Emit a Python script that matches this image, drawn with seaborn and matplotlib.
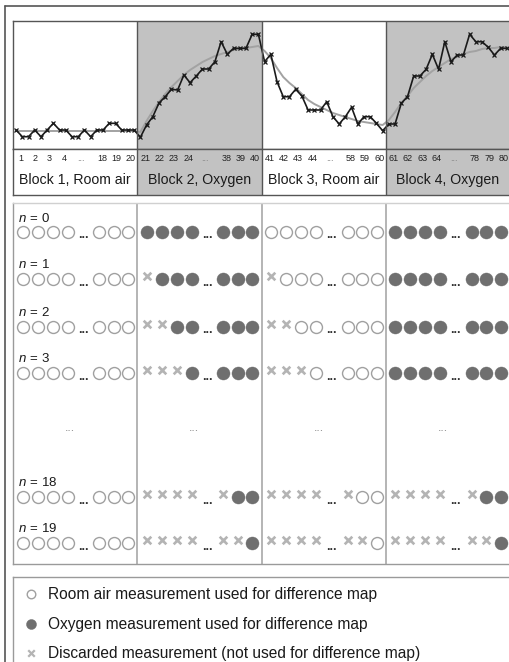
import numpy as np
import pandas as pd
import matplotlib
matplotlib.use("Agg")
import matplotlib.pyplot as plt
import seaborn as sns
from matplotlib.lines import Line2D

# ---------------- data ----------------
block_names = ["Block 1, Room air", "Block 2, Oxygen", "Block 3, Room air", "Block 4, Oxygen"]
block_gas = ["air", "oxygen", "air", "oxygen"]
measurements_per_block = 20
first_ticks = [1, 2, 3, 4]
last_ticks = [18, 19, 20]

signal_block1 = [19, 12.3, 12.3, 19, 12.3, 19, 25.7, 19, 19, 12.3,
                 12.3, 19, 12.3, 19, 19, 25.7, 25.7, 19, 19, 19]
signal_block2 = [11.7, 24, 32.3, 46, 52.3, 59.7, 59, 74, 66.3, 73,
                 80, 80, 87.3, 107.3, 94.7, 100.7, 100.7, 100.7, 114.7, 114.7]
signal_block3 = [87.3, 94.7, 67.3, 52.3, 52.3, 59.7, 53, 39, 39, 39,
                 47.3, 32.3, 25, 32.3, 41.7, 25, 32.3, 32.3, 25.7, 18.3]
signal_block4 = [25, 25, 45.7, 52.3, 73, 73, 79.7, 94.7, 79.7, 107.3,
                 87.3, 94, 94, 114.7, 107.3, 107.3, 101.7, 94, 100.7, 100.7]

fit_block1 = [18, 18, 18, 18, 18, 18, 18, 18, 18, 18,
              18, 18, 18, 18, 18, 18, 18, 18, 18, 18]
fit_block2 = [17, 28, 38, 47, 55, 62, 68, 74, 79, 83,
              87, 90, 93, 95, 97, 99, 100, 101, 102, 103]
fit_block3 = [98, 91, 81, 72, 66, 61, 55, 49, 45, 42,
              39, 36, 34, 32, 30, 28, 27, 26, 25, 24]
fit_block4 = [29, 37, 46, 53, 61, 67, 73, 78, 82, 86,
              90, 92, 95, 97, 98, 100, 101, 101, 102, 102]

n_values = [0, 1, 2, 3, 18, 19]
# slots per block: measurements 1,2,3,4 ... 18,19,20
# o = room air used, f = oxygen used, x = discarded
row_patterns = [
    ["ooooooo", "fffffff", "ooooooo", "fffffff"],
    ["ooooooo", "xffffff", "xoooooo", "fffffff"],
    ["ooooooo", "xxfffff", "xxooooo", "fffffff"],
    ["ooooooo", "xxxffff", "xxxoooo", "fffffff"],
    ["ooooooo", "xxxxxff", "xxxxxoo", "xxxxxff"],
    ["ooooooo", "xxxxxxf", "xxxxxxo", "xxxxxxf"],
]
legend_kinds = ["o", "f", "x"]
legend_labels = ["Room air measurement used for difference map",
                 "Oxygen measurement used for difference map",
                 "Discarded measurement (not used for difference map)"]

# ---------------- style ----------------
sns.set_style("white")
plt.rcParams["font.family"] = ["Liberation Sans", "DejaVu Sans"]
plt.rcParams["mathtext.fontset"] = "custom"
plt.rcParams["mathtext.rm"] = "Liberation Sans"
plt.rcParams["mathtext.it"] = "Liberation Sans:italic"
plt.rcParams["mathtext.bf"] = "Liberation Sans:bold"

W, H = 509, 662
fig = plt.figure(figsize=(W / 100, H / 100), dpi=100)
fig.patch.set_facecolor("white")


def px_axes(x0, y0, x1, y1):
    return fig.add_axes([x0 / W, 1 - y1 / H, (x1 - x0) / W, (y1 - y0) / H])


BLOCK_PX = 124.25
OXY = "#c2c2c2"
DARK = "#555555"
OPEN_EDGE = "#a0a0a0"
FILLED = "#6f6f6f"
CROSS = "#b4b4b4"
nb = len(block_names)

# ---------------- top time-course panel ----------------
ax_top = px_axes(13, 20.7, 510, 149)
signal = signal_block1 + signal_block2 + signal_block3 + signal_block4
fit = fit_block1 + fit_block2 + fit_block3 + fit_block4
df = pd.DataFrame({"measurement": np.arange(1, len(signal) + 1),
                   "signal": signal, "fit": fit})
for k, gas in enumerate(block_gas):
    if gas == "oxygen":
        ax_top.axvspan(k * measurements_per_block + 0.5,
                       (k + 1) * measurements_per_block + 0.5,
                       color=OXY, lw=0, zorder=0)
sns.lineplot(data=df, x="measurement", y="fit", color="#a2a2a2", lw=1.4,
             ax=ax_top, zorder=2)
sns.lineplot(data=df, x="measurement", y="signal", color="#1a1a1a", lw=1.2,
             marker="x", markersize=3.2, markeredgewidth=0.9,
             markeredgecolor="#1a1a1a", ax=ax_top, zorder=3)
for k in range(1, nb):
    ax_top.axvline(k * measurements_per_block + 0.5, color=DARK, lw=1.0, zorder=4)
ax_top.set_xlim(0.5, nb * measurements_per_block + 0.5)
ax_top.set_ylim(0, 128.3)
ax_top.set_xticks([])
ax_top.set_yticks([])
ax_top.set_xlabel("")
ax_top.set_ylabel("")
for sp in ax_top.spines.values():
    sp.set_color(DARK)
    sp.set_linewidth(1.0)

# ---------------- label rows under the time course ----------------
ax_lab = px_axes(13, 149, 510, 194.5)
ax_lab.set_xlim(0, nb)
ax_lab.set_ylim(0, 1)
tick_offsets = [8, 22, 36.5, 51, 68, 89, 103.5, 118]
for k, (name, gas) in enumerate(zip(block_names, block_gas)):
    if gas == "oxygen":
        ax_lab.axvspan(k, k + 1, color=OXY, lw=0, zorder=0)
    base = k * measurements_per_block
    labels = [str(base + t) for t in first_ticks] + ["..."] + [str(base + t) for t in last_ticks]
    for off, lab in zip(tick_offsets, labels):
        ax_lab.text(k + off / BLOCK_PX, 0.80, lab, ha="center", va="center",
                    fontsize=6.5, color="#888888" if lab == "..." else "#222222")
    ax_lab.text(k + 0.5, 0.31, name, ha="center", va="center",
                fontsize=10.2, color="#1a1a1a")
for k in range(1, nb):
    ax_lab.axvline(k, color=DARK, lw=1.0)
ax_lab.set_xticks([])
ax_lab.set_yticks([])
for sp in ax_lab.spines.values():
    sp.set_color(DARK)
    sp.set_linewidth(1.0)

# ---------------- middle schematic panel ----------------
ax_mid = px_axes(13, 202.7, 510, 564)
ax_mid.set_xlim(0, nb)
ax_mid.set_ylim(564, 202.7)
row_y = [232, 279, 326.5, 373, 497, 543]
gap_y = 428
sym_offsets = [9.5, 24.5, 39.5, 54.5, 86, 100.5, 115]
ell_offset = 70

recs = []
for r, (n, pats) in enumerate(zip(n_values, row_patterns)):
    y = row_y[r]
    ax_mid.text(5 / BLOCK_PX, y - 10.5, r"$n\,=\,%d$" % n, fontsize=9.5,
                va="baseline", ha="left", color="#1a1a1a")
    for k, pat in enumerate(pats):
        for off, c in zip(sym_offsets, pat):
            recs.append({"x": k + off / BLOCK_PX, "y": y, "kind": c})
        ax_mid.text(k + ell_offset / BLOCK_PX, y + 6.5, "...", ha="center",
                    va="baseline", fontsize=9, fontweight="bold", color="#333333")
sym = pd.DataFrame(recs)
sns.scatterplot(data=sym[sym.kind == "o"], x="x", y="y", marker="o", s=74,
                color="white", edgecolor=OPEN_EDGE, linewidth=1.0, ax=ax_mid, zorder=3)
sns.scatterplot(data=sym[sym.kind == "f"], x="x", y="y", marker="o", s=88,
                color=FILLED, edgecolor=FILLED, linewidth=0.3, ax=ax_mid, zorder=3)
crosses = sym[sym.kind == "x"].copy()
crosses["y"] = crosses["y"] - 3
sns.scatterplot(data=crosses, x="x", y="y", marker="x", s=30,
                color=CROSS, linewidth=1.9, ax=ax_mid, zorder=3)
for k in range(nb):
    ax_mid.text(k + 0.5 - 5 / BLOCK_PX, gap_y, "...", ha="center", va="center",
                fontsize=9, color="#888888")
for k in range(1, nb):
    ax_mid.axvline(k, color="#a8a8a8", lw=1.2, zorder=1)
ax_mid.set_xticks([])
ax_mid.set_yticks([])
ax_mid.set_xlabel("")
ax_mid.set_ylabel("")
ax_mid.spines["left"].set_color("#9a9a9a")
ax_mid.spines["bottom"].set_color("#9a9a9a")
ax_mid.spines["top"].set_color("#d0d0d0")
ax_mid.spines["top"].set_linestyle((0, (1, 1)))
ax_mid.spines["right"].set_visible(False)
for sp in ax_mid.spines.values():
    sp.set_linewidth(1.0)

# ---------------- legend box ----------------
ax_leg = px_axes(13, 577, 520, 690)
ax_leg.set_xlim(13, 520)
ax_leg.set_ylim(690, 577)
leg_y = [594, 624, 653]
for kind, lab, y in zip(legend_kinds, legend_labels, leg_y):
    pt = pd.DataFrame({"x": [31], "y": [y]})
    if kind == "o":
        sns.scatterplot(data=pt, x="x", y="y", marker="o", s=38, color="white",
                        edgecolor=OPEN_EDGE, linewidth=1.0, ax=ax_leg)
    elif kind == "f":
        sns.scatterplot(data=pt, x="x", y="y", marker="o", s=52, color=FILLED,
                        edgecolor=FILLED, linewidth=0.3, ax=ax_leg)
    else:
        sns.scatterplot(data=pt, x="x", y="y", marker="x", s=22, color=CROSS,
                        linewidth=1.6, ax=ax_leg)
    ax_leg.text(48, y, lab, ha="left", va="center", fontsize=11.2, color="#1a1a1a")
ax_leg.set_xticks([])
ax_leg.set_yticks([])
ax_leg.set_xlabel("")
ax_leg.set_ylabel("")
for sp in ax_leg.spines.values():
    sp.set_color("#9a9a9a")
    sp.set_linewidth(1.0)

# ---------------- outer frame ----------------
fig.add_artist(Line2D([5 / W, 1], [1 - 6 / H, 1 - 6 / H], color="#555555",
                      lw=1.2, transform=fig.transFigure))
fig.add_artist(Line2D([5 / W, 5 / W], [0, 1 - 6 / H], color="#555555",
                      lw=1.2, transform=fig.transFigure))

fig.savefig("out.png", dpi=100)
